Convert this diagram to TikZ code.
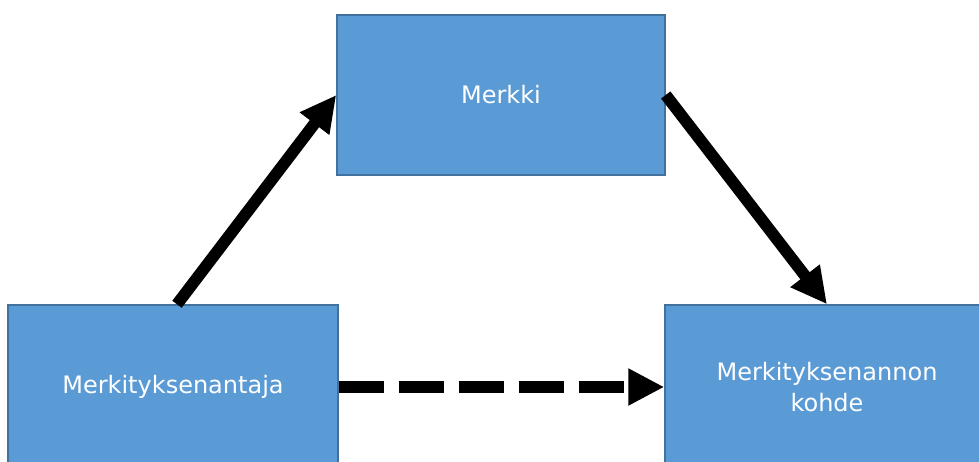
\documentclass[tikz,border=0pt]{standalone}
\usepackage{fontspec}
\setmainfont{DejaVu Sans}
\usetikzlibrary{arrows.meta}
\definecolor{boxfill}{HTML}{5B9BD5}
\definecolor{boxline}{HTML}{41719C}
\begin{document}
\begin{tikzpicture}[x=0.75pt,y=-0.75pt,
  box/.style={draw=boxline,line width=1.1pt,fill=boxfill,text=white,
    font=\fontsize{18}{23.3}\selectfont,align=center,inner sep=0pt},
  link/.style={line width=8.8pt,-{Triangle[length=27pt,width=26pt]}}]
\useasboundingbox (0,0) rectangle (979,461);
\clip (0,0) rectangle (979,461);
% the three concept boxes (the lower two run past the bottom edge)
\node[box,minimum width=246pt,minimum height=120pt] (sign) at (501,95) {Merkki};
\node[box,minimum width=247.5pt,minimum height=123pt] (giver) at (173,387) {Merkityksenantaja};
\node[box,minimum width=243pt,minimum height=123pt] (target) at (827,387) {Merkityksenannon\\kohde};
% connectors
\draw[link] (giver.north) ++(4,0) -- (sign.west);
\draw[link] (sign.east) -- (target.north);
\draw[link,dash pattern=on 34pt off 11pt] (giver.east) -- (target.west);
\end{tikzpicture}
\end{document}
